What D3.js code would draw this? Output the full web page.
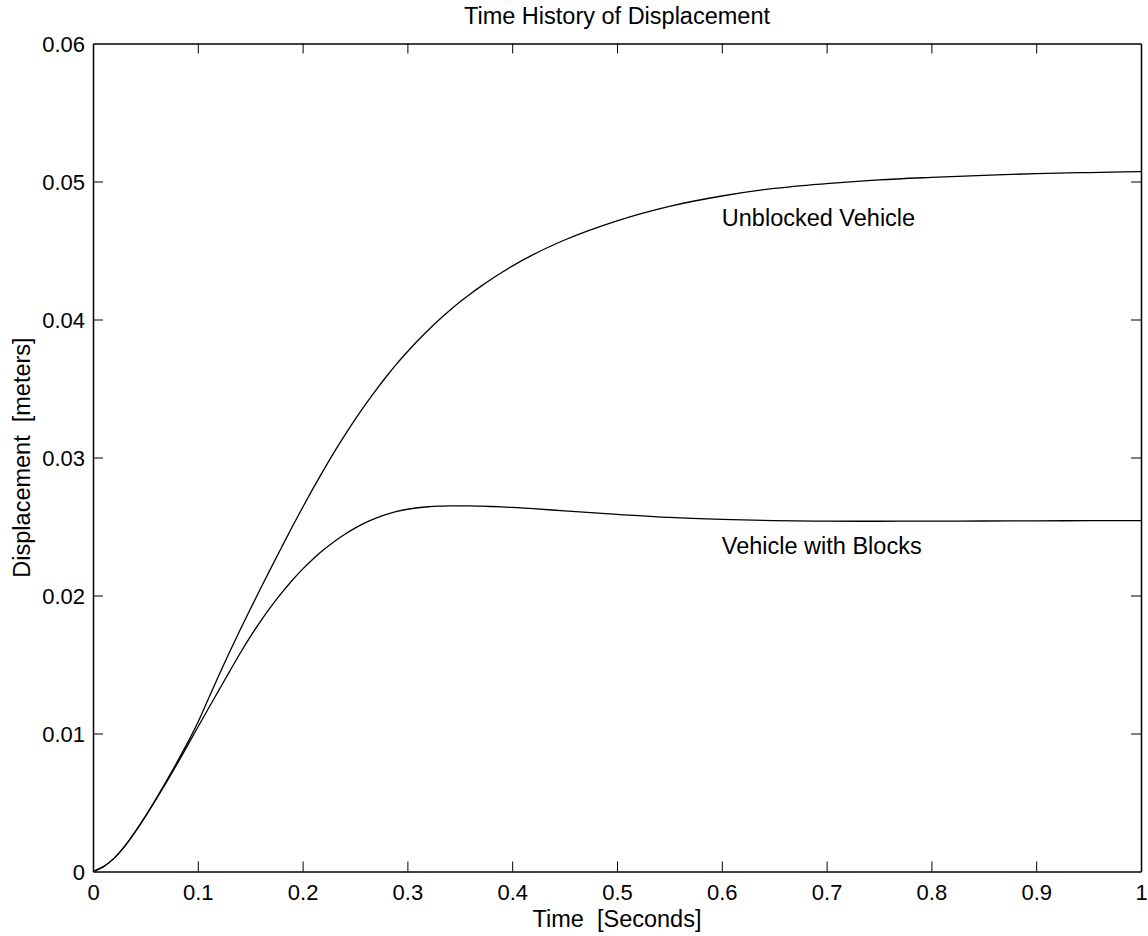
<!DOCTYPE html>
<html>
<head>
<meta charset="utf-8">
<script src="https://cdn.jsdelivr.net/npm/d3@7"></script>
<style>
  html, body { margin: 0; padding: 0; background: #fff; }
  svg { display: block; font-family: "Liberation Sans", Arial, Helvetica, sans-serif; }
</style>
</head>
<body>
<svg id="chart" width="1148" height="936"></svg>
<script>
// ---- data ----
const time = [0, 0.01, 0.02, 0.03, 0.04, 0.05, 0.06, 0.07, 0.08, 0.09, 0.10,
  0.11, 0.12, 0.13, 0.14, 0.15, 0.16, 0.17, 0.18, 0.19, 0.20,
  0.21, 0.22, 0.23, 0.24, 0.25, 0.26, 0.27, 0.28, 0.29, 0.30,
  0.31, 0.32, 0.33, 0.34, 0.35, 0.36, 0.37, 0.38, 0.39, 0.40,
  0.42, 0.45, 0.50, 0.55, 0.60, 0.65, 0.70, 0.75, 0.80, 0.85, 0.90, 0.95, 1.00];

const unblocked = [0, 0.00035, 0.00095, 0.0018, 0.00285, 0.0040, 0.00525, 0.00655, 0.0079, 0.0093, 0.0108,
  0.0125, 0.0142, 0.01585, 0.01745, 0.0190, 0.02052, 0.02202, 0.0235, 0.02496, 0.02638,
  0.02776, 0.02909, 0.03037, 0.03159, 0.03275, 0.03385, 0.03489, 0.03587, 0.0368, 0.03766,
  0.03848, 0.03924, 0.03996, 0.04063, 0.04126, 0.04185, 0.0424, 0.04292, 0.04341, 0.04387,
  0.0447, 0.04576, 0.04715, 0.0482, 0.04895, 0.0495, 0.04985, 0.05012, 0.0503, 0.05045, 0.05057, 0.05065, 0.05071];

const withBlocks = [0, 0.00035, 0.00095, 0.0018, 0.00285, 0.0040, 0.0052, 0.00645, 0.00775, 0.0091, 0.01045,
  0.01179, 0.01312, 0.01445, 0.01576, 0.0170, 0.01815, 0.01921, 0.02019, 0.02109, 0.02191,
  0.02265, 0.02331, 0.0239, 0.02442, 0.02488, 0.02528, 0.02561, 0.02588, 0.02609, 0.02625,
  0.02636, 0.02643, 0.02647, 0.02649, 0.0265, 0.02649, 0.02647, 0.02645, 0.02642, 0.02638,
  0.02629, 0.02613, 0.02588, 0.02566, 0.02552, 0.02543, 0.02539, 0.02538, 0.02539, 0.0254, 0.02541, 0.02542, 0.02543];

const seriesNames = ["Unblocked Vehicle", "Vehicle with Blocks"];
const labelT = [0.6, 0.6];
const labelV = [0.0468, 0.0230];

const xTicks = [0, 0.1, 0.2, 0.3, 0.4, 0.5, 0.6, 0.7, 0.8, 0.9, 1];
const yTicks = [0, 0.01, 0.02, 0.03, 0.04, 0.05, 0.06];
const xTickLabels = ["0", "0.1", "0.2", "0.3", "0.4", "0.5", "0.6", "0.7", "0.8", "0.9", "1"];
const yTickLabels = ["0", "0.01", "0.02", "0.03", "0.04", "0.05", "0.06"];

const titleText = "Time History of Displacement";
const xLabelText = "Time  [Seconds]";
const yLabelText = "Displacement  [meters]";

// ---- layout ----
const L = 93, R = 1141, T = 43.5, B = 871.5;
const FS = 22;      // tick labels
const FS_L = 23.5;  // title, axis labels, annotations

const svg = d3.select("#chart");
const x = d3.scaleLinear().domain([0, 1]).range([L, R]);
const y = d3.scaleLinear().domain([0, 0.06]).range([B, T]);

// curves
const line = d3.line()
  .x((d, i) => x(time[i]))
  .y(d => y(d))
  .curve(d3.curveMonotoneX);

[unblocked, withBlocks].forEach(s => {
  svg.append("path")
    .attr("d", line(s))
    .attr("fill", "none")
    .attr("stroke", "#000")
    .attr("stroke-width", 1.3);
});

// axes (ticks inward)
function styleAxis(g) {
  g.selectAll(".domain").attr("stroke", "#000").attr("stroke-width", 1.5);
  g.selectAll(".tick line").attr("stroke", "#000").attr("stroke-width", 1);
  g.selectAll("text").attr("fill", "#000").style("font-size", FS + "px")
    .style("font-family", '"Liberation Sans", Arial, sans-serif');
}

const xAxis = svg.append("g").attr("transform", `translate(0,${B})`)
  .call(d3.axisBottom(x).tickValues(xTicks).tickSize(-10).tickSizeOuter(0)
    .tickFormat((d, i) => xTickLabels[i]));
xAxis.selectAll("text").attr("y", 28.5).attr("dy", null);
styleAxis(xAxis);

const xAxisTop = svg.append("g").attr("transform", `translate(0,${T})`)
  .call(d3.axisTop(x).tickValues(xTicks).tickSize(-10).tickSizeOuter(0).tickFormat(""));
styleAxis(xAxisTop);

const yAxis = svg.append("g").attr("transform", `translate(${L},0)`)
  .call(d3.axisLeft(y).tickValues(yTicks).tickSize(-10).tickSizeOuter(0)
    .tickFormat((d, i) => yTickLabels[i]));
yAxis.selectAll("text").attr("x", -8).attr("dy", "0.36em");
styleAxis(yAxis);

const yAxisRight = svg.append("g").attr("transform", `translate(${R},0)`)
  .call(d3.axisRight(y).tickValues(yTicks).tickSize(-10).tickSizeOuter(0).tickFormat(""));
styleAxis(yAxisRight);

// remove edge ticks that coincide with frame
[xAxis, xAxisTop].forEach(g => g.selectAll(".tick line").filter(d => d === 0 || d === 1).remove());
[yAxis, yAxisRight].forEach(g => g.selectAll(".tick line").filter(d => d === 0 || d === 0.06).remove());

// series labels
seriesNames.forEach((name, i) => {
  svg.append("text")
    .attr("x", x(labelT[i]))
    .attr("y", y(labelV[i]))
    .attr("font-size", FS_L)
    .attr("fill", "#000")
    .text(name);
});

// title and axis labels
svg.append("text").attr("x", (L + R) / 2).attr("y", 24)
  .attr("text-anchor", "middle").attr("font-size", FS_L).text(titleText);

svg.append("text").attr("x", (L + R) / 2).attr("y", 926.5)
  .attr("text-anchor", "middle").attr("font-size", FS_L)
  .style("white-space", "pre").attr("xml:space", "preserve").text(xLabelText);

svg.append("text")
  .attr("transform", `translate(29.5,${(T + B) / 2}) rotate(-90)`)
  .attr("text-anchor", "middle").attr("font-size", FS_L)
  .style("white-space", "pre").attr("xml:space", "preserve").text(yLabelText);
</script>
</body>
</html>
